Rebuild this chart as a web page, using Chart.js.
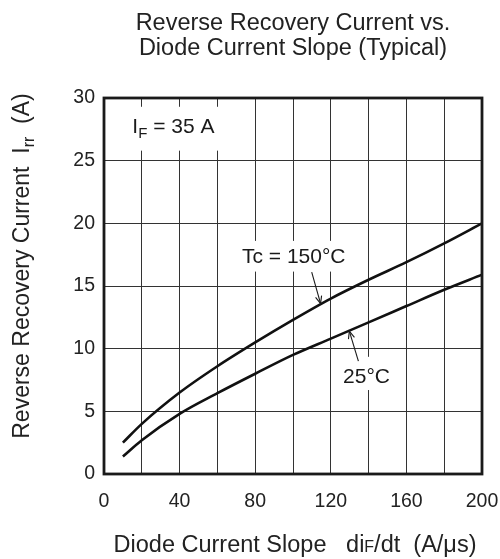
<!DOCTYPE html>
<html>
<head>
<meta charset="utf-8">
<script src="https://cdn.jsdelivr.net/npm/chart.js@4"></script>
<style>
html,body{margin:0;padding:0;background:#fff;}
#wrap{width:500px;height:559px;position:relative;}
</style>
</head>
<body>
<div id="wrap"><canvas id="c" width="500" height="559"></canvas></div>
<script>
// Data
const xValues = [10, 20, 40, 60, 80, 100, 120, 140, 160, 180, 200];
const irr150 = [2.5, 4.0, 6.5, 8.6, 10.5, 12.3, 14.0, 15.5, 16.9, 18.4, 20.0];
const irr25 = [1.4, 2.7, 4.8, 6.45, 8.0, 9.5, 10.8, 12.1, 13.4, 14.7, 15.9];
const xGrid = [0, 20, 40, 60, 80, 100, 120, 140, 160, 180, 200];
const xTickLabels = [0, 40, 80, 120, 160, 200];
const yTicks = [0, 5, 10, 15, 20, 25, 30];
const titleLines = ["Reverse Recovery Current vs.", "Diode Current Slope (Typical)"];
// Annotations (data units)
const labelIF = {x: 15, y: 27.2, text: "I", sub: "F", rest: " = 35 A"};
const label150 = {x: 73, y: 16.8, text: "Tc = 150°C", arrowFrom: [109.9, 16.1], arrowTo: [114.6, 13.6]};
const label25 = {x: 126.5, y: 7.3, text: "25°C", arrowFrom: [134.6, 9.0], arrowTo: [129.8, 11.4]};

const FONT = "'Liberation Sans', Arial, Helvetica, sans-serif";

function toPts(xs, ys) { return xs.map((x, i) => ({x: x, y: ys[i]})); }

const decor = {
  id: 'decor',
  beforeDatasetsDraw(chart) {
    const ctx = chart.ctx, xs = chart.scales.x, ys = chart.scales.y;
    ctx.save();
    ctx.fillStyle = '#fff';
    function box(x0, y0, x1, y1) {
      const a = xs.getPixelForValue(x0), b = ys.getPixelForValue(y0);
      ctx.fillRect(a, b, xs.getPixelForValue(x1) - a, ys.getPixelForValue(y1) - b);
    }
    box(8, 29.3, 63, 25.8);
    box(71, 18.6, 130, 16.15);
    box(125, 9.35, 152, 6.7);
    ctx.restore();
  },
  afterDatasetsDraw(chart) {
    const ctx = chart.ctx, xs = chart.scales.x, ys = chart.scales.y, a = chart.chartArea;
    ctx.save();
    ctx.strokeStyle = '#1a1a1a';
    ctx.lineWidth = 2.8;
    ctx.strokeRect(a.left, a.top, a.right - a.left, a.bottom - a.top);
    ctx.fillStyle = '#1a1a1a';
    ctx.font = '21px ' + FONT;
    ctx.textBaseline = 'alphabetic';
    ctx.textAlign = 'left';
    let px = xs.getPixelForValue(labelIF.x), py = ys.getPixelForValue(labelIF.y);
    ctx.fillText(labelIF.text, px, py);
    let w = ctx.measureText(labelIF.text).width;
    ctx.font = '15px ' + FONT;
    ctx.fillText(labelIF.sub, px + w, py + 5);
    let w2 = ctx.measureText(labelIF.sub).width;
    ctx.font = '21px ' + FONT;
    ctx.fillText(labelIF.rest, px + w + w2, py);
    ctx.fillText(label150.text, xs.getPixelForValue(label150.x), ys.getPixelForValue(label150.y));
    ctx.fillText(label25.text, xs.getPixelForValue(label25.x), ys.getPixelForValue(label25.y));
    function arrow(f, t) {
      const x1 = xs.getPixelForValue(f[0]), y1 = ys.getPixelForValue(f[1]);
      const x2 = xs.getPixelForValue(t[0]), y2 = ys.getPixelForValue(t[1]);
      ctx.strokeStyle = '#1a1a1a';
      ctx.lineWidth = 1.1;
      ctx.beginPath(); ctx.moveTo(x1, y1); ctx.lineTo(x2, y2); ctx.stroke();
      const ang = Math.atan2(y2 - y1, x2 - x1), L = 8, s = 0.4;
      ctx.beginPath();
      ctx.moveTo(x2 - L * Math.cos(ang - s), y2 - L * Math.sin(ang - s));
      ctx.lineTo(x2, y2);
      ctx.lineTo(x2 - L * Math.cos(ang + s), y2 - L * Math.sin(ang + s));
      ctx.stroke();
    }
    arrow(label150.arrowFrom, label150.arrowTo);
    arrow(label25.arrowFrom, label25.arrowTo);
    ctx.restore();
  },
  afterDraw(chart) {
    const ctx = chart.ctx, a = chart.chartArea;
    ctx.save();
    ctx.fillStyle = '#222';
    ctx.textBaseline = 'alphabetic';
    ctx.textAlign = 'center';
    ctx.font = '23.5px ' + FONT;
    const cx = (a.left + a.right) / 2;
    ctx.fillText(titleLines[0], cx, 30);
    ctx.fillText(titleLines[1], cx, 55);
    const parts = [["Diode Current Slope   di", 23.5, 0], ["F", 16, 0], ["/dt  (A/\u03bcs)", 23.5, 0]];
    let total = 0;
    parts.forEach(p => { ctx.font = p[1] + 'px ' + FONT; total += ctx.measureText(p[0]).width; });
    let x = cx - total / 2 + 2;
    ctx.textAlign = 'left';
    parts.forEach(p => {
      ctx.font = p[1] + 'px ' + FONT;
      ctx.fillText(p[0], x, 552 + p[2]);
      x += ctx.measureText(p[0]).width;
    });
    ctx.translate(29, (a.top + a.bottom) / 2 - 20);
    ctx.rotate(-Math.PI / 2);
    const yparts = [["Reverse Recovery Current  I", 23, 0], ["rr", 16, 5], ["  (A)", 23, 0]];
    total = 0;
    yparts.forEach(p => { ctx.font = p[1] + 'px ' + FONT; total += ctx.measureText(p[0]).width; });
    x = -total / 2;
    yparts.forEach(p => {
      ctx.font = p[1] + 'px ' + FONT;
      ctx.fillText(p[0], x, p[2]);
      x += ctx.measureText(p[0]).width;
    });
    ctx.restore();
  }
};

new Chart(document.getElementById('c'), {
  type: 'line',
  data: {
    datasets: [
      {label: 'Tc = 150°C', data: toPts(xValues, irr150), borderColor: '#111', borderWidth: 2.6, pointRadius: 0, cubicInterpolationMode: 'monotone', fill: false},
      {label: '25°C', data: toPts(xValues, irr25), borderColor: '#111', borderWidth: 2.6, pointRadius: 0, cubicInterpolationMode: 'monotone', fill: false}
    ]
  },
  plugins: [decor],
  options: {
    responsive: false,
    animation: false,
    events: [],
    layout: {padding: {left: 0, right: 18, top: 98, bottom: 0}},
    plugins: {legend: {display: false}, tooltip: {enabled: false}, title: {display: false}},
    scales: {
      x: {
        type: 'linear', min: 0, max: 200,
        afterFit(s) { s.height = 85; s.paddingLeft = 0; s.paddingRight = 0; },
        afterBuildTicks(s) { s.ticks = xGrid.map(v => ({value: v})); },
        grid: {color: '#333', lineWidth: 1, drawTicks: false},
        border: {display: false},
        ticks: {color: '#222', font: {family: FONT, size: 19.5}, padding: 16, maxRotation: 0, autoSkip: false,
          callback: v => xTickLabels.includes(v) ? String(v) : ''}
      },
      y: {
        type: 'linear', min: 0, max: 30,
        afterFit(s) { s.width = 104; s.paddingTop = 0; s.paddingBottom = 0; },
        afterBuildTicks(s) { s.ticks = yTicks.map(v => ({value: v})); },
        grid: {color: '#333', lineWidth: 1, drawTicks: false},
        border: {display: false},
        ticks: {color: '#222', font: {family: FONT, size: 19.5}, padding: 9, autoSkip: false}
      }
    }
  }
});
</script>
</body>
</html>
